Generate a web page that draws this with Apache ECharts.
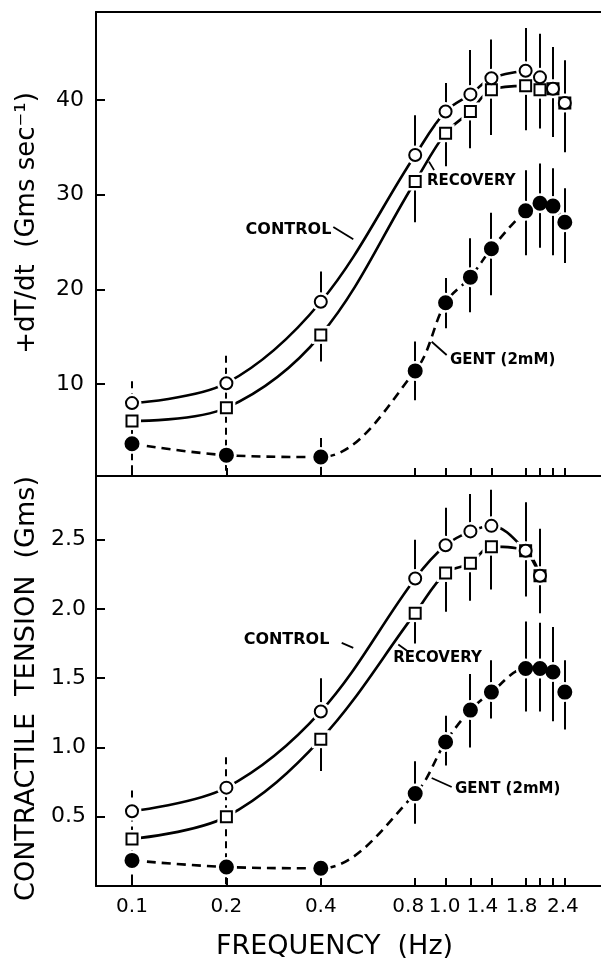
<!DOCTYPE html>
<html><head><meta charset="utf-8">
<script src="https://cdn.jsdelivr.net/npm/echarts@6/dist/echarts.min.js"></script>
<style>html,body{margin:0;padding:0;background:#fff}#c{width:601px;height:961px}</style>
</head><body><div id="c"></div>
<script>
// ---------------- DATA ----------------
const freq = [0.1, 0.2, 0.4, 0.8, 1.0, 1.2, 1.4, 1.8, 2.0, 2.2, 2.4];      // Hz
const freqBot = [0.1, 0.2, 0.4, 0.8, 1.0, 1.2, 1.4, 1.8, 2.0];             // control / recovery, tension
const tickFreqs = [0.1, 0.2, 0.4, 0.8, 1.0, 1.2, 1.4, 1.8, 2.0, 2.2, 2.4];
const tickLabels = ['0.1', '0.2', '0.4', '0.8', '1.0', '', '1.4', '1.8', '', '', '2.4'];

// Top panel: +dT/dt (Gms sec-1)
const topControl   = [8.0, 10.1, 18.7, 34.2, 38.8, 40.6, 42.3, 43.1, 42.4, 41.2, 39.7];
const topRecovery  = [6.1, 7.5, 15.2, 31.4, 36.5, 38.8, 41.1, 41.5, 41.1, 41.2, 39.7];
const topGent      = [3.7, 2.5, 2.3, 11.4, 18.6, 21.3, 24.3, 28.3, 29.1, 28.8, 27.1];
const topControlHi = [null, null, 21.9, 38.4, 41.8, 45.3, 46.4, 47.6, 47.0, 45.6, 44.2];
const topRecoveryLo= [null, null, 12.4, 27.1, 33.0, 34.9, 36.3, 36.8, 37.0, 36.1, 34.5];
const topGentHi    = [null, null, 4.3, 14.5, 21.2, 25.4, 28.1, 32.6, 33.3, 32.8, 30.7];
const topGentLo    = [null, null, 0, 8.3, 15.9, 17.6, 19.4, 23.6, 24.4, 23.6, 22.8];
const topLowBarHi  = [10.3, 13.0];   // dashed bars at 0.1 and 0.2 Hz
const topTicks = [10, 20, 30, 40];

// Bottom panel: contractile tension (Gms)
const botControl   = [0.54, 0.71, 1.26, 2.22, 2.46, 2.56, 2.60, 2.42, 2.24];
const botRecovery  = [0.34, 0.50, 1.06, 1.97, 2.26, 2.33, 2.45, 2.42, 2.24];
const botGent      = [0.185, 0.137, 0.128, 0.667, 1.04, 1.27, 1.40, 1.57, 1.57, 1.545, 1.40];
const botControlHi = [null, null, 1.50, 2.50, 2.73, 2.83, 2.86, 2.77, 2.58];
const botRecoveryLo= [null, null, 0.83, 1.75, 1.98, 2.06, 2.14, 2.09, 1.97];
const botGentHi    = [null, null, null, 0.90, 1.23, 1.53, 1.63, 1.91, 1.90, 1.87, 1.63];
const botGentLo    = [null, null, null, 0.45, 0.87, 1.00, 1.21, 1.26, 1.26, 1.19, 1.13];
const botLowBarHi  = [0.69, 0.93];
const botTicks = [0.5, 1.0, 1.5, 2.0, 2.5];
const lowFreq = [0.1, 0.2];

// ---------------- LAYOUT / STYLE ----------------
const FONT = 'DejaVu Sans';
const X_MIN = -1.1148, X_MAX = 0.4956;
const TOP_MIN = 0.3, TOP_MAX = 49.3, BOT_MIN = 0, BOT_MAX = 2.96;
const topCurveMaxF = 1.8;
// horizontal nudge (px) of crowded frequency labels, as in the original print
const labelNudge = {'0.8': -7, '1.0': -1, '1.4': -9, '1.8': -4, '2.4': -2};

const L = Math.log10;
const chart = echarts.init(document.getElementById('c'), null, {renderer: 'canvas'});

function pts(fs, vs, maxF) {
  const out = [];
  fs.forEach((f, i) => { if (vs[i] != null && (maxF == null || f <= maxF + 1e-9)) out.push([L(f), vs[i]]); });
  return out;
}
function bars(fs, from, to, minV) {
  const out = [];
  fs.forEach((f, i) => { if (to[i] != null) out.push([L(f), from[i], Math.max(to[i], minV), 0]); });
  return out;
}
function lowBars(his, minV) { return lowFreq.map((f, i) => [L(f), his[i], minV, 1]); }

function lineS(data, xi, yi, dashed) {
  return {type: 'line', xAxisIndex: xi, yAxisIndex: yi, data, smooth: 0.35, symbol: 'none',
    lineStyle: {color: '#000', width: 2.6, type: dashed ? [9, 6] : 'solid'}, z: 2, silent: true};
}
function barS(data, xi, yi) {
  return {type: 'custom', xAxisIndex: xi, yAxisIndex: yi, data, encode: {x: 0, y: [1, 2]}, z: 2, silent: true,
    renderItem: (p, api) => {
      const a = api.coord([api.value(0), api.value(1)]);
      const b = api.coord([api.value(0), api.value(2)]);
      const x = Math.round(a[0]);
      return {type: 'line', shape: {x1: x, y1: a[1], x2: x, y2: b[1]},
        style: {stroke: '#000', lineWidth: 2, lineDash: api.value(3) ? [7, 5] : null}};
    }};
}
function markS(data, xi, yi, kind) {
  const sym = kind === 'sq' ? 'rect' : 'circle';
  const size = kind === 'fill' ? 13 : (kind === 'sq' ? 11 : 12);
  return [
    {type: 'scatter', xAxisIndex: xi, yAxisIndex: yi, data, symbol: sym, symbolSize: size + 7,
      itemStyle: {color: '#fff', borderWidth: 0, opacity: 1}, z: 3, silent: true},
    {type: 'scatter', xAxisIndex: xi, yAxisIndex: yi, data, symbol: sym, symbolSize: size,
      itemStyle: {color: kind === 'fill' ? '#000' : '#fff', borderColor: '#000', borderWidth: 2, opacity: 1}, z: 4, silent: true}
  ];
}

const tickVals = tickFreqs.map(L);
const labelVals = tickFreqs.filter((f, i) => tickLabels[i] !== '').map(L);
function fmtX(v) {
  let best = 0, d = 1e9;
  tickFreqs.forEach((f, i) => { const dd = Math.abs(L(f) - v); if (dd < d) { d = dd; best = i; } });
  const t = tickLabels[best];
  const n = labelNudge[t];
  if (!n) return '{n|' + t + '}';
  return '{' + (n < 0 ? 'l' : 'r') + Math.abs(n) + '|' + t + '}';
}
const xRich = {n: {fontFamily: FONT, fontSize: 20, color: '#000'}};
Object.values(labelNudge).forEach(n => {
  const k = (n < 0 ? 'l' : 'r') + Math.abs(n);
  xRich[k] = {fontFamily: FONT, fontSize: 20, color: '#000',
    padding: n < 0 ? [0, -2 * n, 0, 0] : [0, 0, 0, 2 * n]};
});
const axLine = {show: true, onZero: false, lineStyle: {color: '#000', width: 2}};

const option = {
  animation: false,
  backgroundColor: '#fff',
  grid: [
    {left: 96, right: 0, top: 12, height: 464},
    {left: 96, right: 0, top: 476, height: 415}
  ],
  xAxis: [
    {type: 'value', gridIndex: 0, min: X_MIN, max: X_MAX, position: 'bottom', axisLine: axLine,
      axisTick: {show: true, inside: true, length: 8, customValues: tickVals, lineStyle: {color: '#000', width: 2}},
      axisLabel: {show: false}, splitLine: {show: false}},
    {type: 'value', gridIndex: 0, min: X_MIN, max: X_MAX, position: 'top', axisLine: axLine,
      axisTick: {show: false}, axisLabel: {show: false}, splitLine: {show: false}},
    {type: 'value', gridIndex: 1, min: X_MIN, max: X_MAX, position: 'bottom', axisLine: axLine,
      axisTick: {show: true, inside: true, length: 8, customValues: tickVals, lineStyle: {color: '#000', width: 2}},
      axisLabel: {show: true, customValues: labelVals, formatter: fmtX, rich: xRich, color: '#000', fontFamily: FONT, fontSize: 20, margin: 11},
      splitLine: {show: false},
      name: 'FREQUENCY  (Hz)', nameLocation: 'middle', nameGap: 47,
      nameTextStyle: {color: '#000', fontFamily: FONT, fontSize: 27, padding: [0, 28, 0, 0]}}
  ],
  yAxis: [
    {type: 'value', gridIndex: 0, min: TOP_MIN, max: TOP_MAX, axisLine: axLine,
      axisTick: {show: true, inside: true, length: 9, customValues: topTicks, lineStyle: {color: '#000', width: 2}},
      axisLabel: {show: true, customValues: topTicks, color: '#000', fontFamily: FONT, fontSize: 22, margin: 12},
      splitLine: {show: false},
      name: '+dT/dt  (Gms sec\u207B\u00B9)', nameLocation: 'middle', nameRotate: 90, nameGap: 56,
      nameTextStyle: {color: '#000', fontFamily: FONT, fontSize: 26, padding: [0, 0, 0, 42]}},
    {type: 'value', gridIndex: 1, min: BOT_MIN, max: BOT_MAX, axisLine: axLine,
      axisTick: {show: true, inside: true, length: 9, customValues: botTicks, lineStyle: {color: '#000', width: 2}},
      axisLabel: {show: true, customValues: botTicks, formatter: v => v.toFixed(1), color: '#000', fontFamily: FONT, fontSize: 22, margin: 10},
      splitLine: {show: false},
      name: 'CONTRACTILE  TENSION  (Gms)', nameLocation: 'middle', nameRotate: 90, nameGap: 54,
      nameTextStyle: {color: '#000', fontFamily: FONT, fontSize: 27, padding: [0, 15, 0, 0]}}
  ],
  series: [
    // top panel
    lineS(pts(freq, topControl, topCurveMaxF), 0, 0, false),
    lineS(pts(freq, topRecovery, topCurveMaxF), 0, 0, false),
    lineS(pts(freq, topGent), 0, 0, true),
    barS(lowBars(topLowBarHi, TOP_MIN), 0, 0),
    barS(bars(freq, topControl, topControlHi, TOP_MIN), 0, 0),
    barS(bars(freq, topRecovery, topRecoveryLo, TOP_MIN), 0, 0),
    barS(bars(freq, topGentHi.map((v, i) => v == null ? topGent[i] : v), topGentLo, TOP_MIN), 0, 0),
    ...markS(pts(freq, topGent), 0, 0, 'fill'),
    ...markS(pts(freq, topRecovery), 0, 0, 'sq'),
    ...markS(pts(freq, topControl), 0, 0, 'open'),
    // bottom panel
    lineS(pts(freqBot, botControl), 2, 1, false),
    lineS(pts(freqBot, botRecovery), 2, 1, false),
    lineS(pts(freq, botGent), 2, 1, true),
    barS(lowBars(botLowBarHi, BOT_MIN), 2, 1),
    barS(bars(freqBot, botControl, botControlHi, BOT_MIN), 2, 1),
    barS(bars(freqBot, botRecovery, botRecoveryLo, BOT_MIN), 2, 1),
    barS(bars(freq, botGentHi, botGentLo, BOT_MIN), 2, 1),
    ...markS(pts(freq, botGent), 2, 1, 'fill'),
    ...markS(pts(freqBot, botRecovery), 2, 1, 'sq'),
    ...markS(pts(freqBot, botControl), 2, 1, 'open')
  ]
};
chart.setOption(option);

// ---------------- ANNOTATIONS (data coordinates) ----------------
const notes = [
  {g: 0, text: 'CONTROL',    at: [0.3155, 26.3], align: 'center', size: 16},
  {g: 0, text: 'RECOVERY',   at: [0.872, 31.4],  align: 'left',   size: 15},
  {g: 0, text: 'GENT (2mM)', at: [1.033, 12.55], align: 'left',   size: 15},
  {g: 1, text: 'CONTROL',    at: [0.311, 1.774], align: 'center', size: 16},
  {g: 1, text: 'RECOVERY',   at: [0.942, 1.643], align: 'center', size: 15},
  {g: 1, text: 'GENT (2mM)', at: [1.072, 0.697], align: 'left',   size: 15}
];
const leaders = [
  {g: 0, a: [0.4385, 26.6], b: [0.5077, 25.3]},
  {g: 0, a: [0.885, 33.5],  b: [0.919, 32.6]},
  {g: 0, a: [0.903, 14.48], b: [1.008, 13.08]},
  {g: 1, a: [0.4664, 1.755], b: [0.5077, 1.719]},
  {g: 1, a: [0.7067, 1.743], b: [0.7516, 1.70]},
  {g: 1, a: [0.903, 0.78],  b: [1.046, 0.715]}
];
const px = (g, p) => chart.convertToPixel({gridIndex: g}, [L(p[0]), p[1]]);
const graphic = [];
notes.forEach(n => {
  const p = px(n.g, n.at);
  graphic.push({type: 'text', x: p[0], y: p[1], z: 10, silent: true,
    style: {text: n.text, fill: '#000', font: 'bold ' + n.size + 'px "' + FONT + '"', textAlign: n.align, textVerticalAlign: 'middle'}});
});
leaders.forEach(l => {
  const a = px(l.g, l.a), b = px(l.g, l.b);
  graphic.push({type: 'line', z: 10, silent: true, shape: {x1: a[0], y1: a[1], x2: b[0], y2: b[1]},
    style: {stroke: '#000', lineWidth: 1.8}});
});
chart.setOption({graphic});
</script>
</body></html>
